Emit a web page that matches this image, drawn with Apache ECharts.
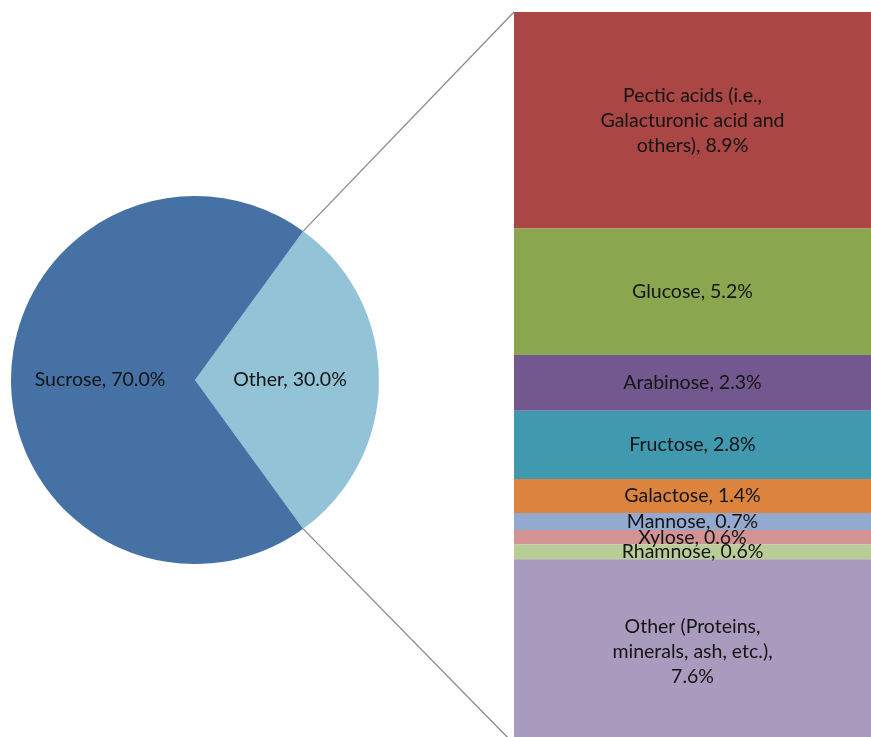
<!DOCTYPE html>
<html>
<head>
<meta charset="utf-8">
<style>
  html, body { margin: 0; padding: 0; background: #ffffff; width: 871px; height: 737px; overflow: hidden; }
  /* the stacked bar runs a few pixels past the bottom of the view */
  #chart { width: 871px; height: 745px; }
</style>
<script src="https://cdn.jsdelivr.net/npm/echarts@6/dist/echarts.min.js"></script>
</head>
<body>
<div id="chart"></div>
<script>
// Main split of the composition (pie)
const pieNames = ['Other', 'Sucrose'];
const pieValues = [30.0, 70.0];
const pieColors = ['#93C3D6', '#4571A5'];

// Breakdown of the "Other" share (stacked bar, top to bottom)
const barNames = [
  'Pectic acids (i.e.,\nGalacturonic acid and\nothers)',
  'Glucose',
  'Arabinose',
  'Fructose',
  'Galactose',
  'Mannose',
  'Xylose',
  'Rhamnose',
  'Other (Proteins,\nminerals, ash, etc.),\n'
];
const barValues = [8.9, 5.2, 2.3, 2.8, 1.4, 0.7, 0.6, 0.6, 7.6];
const barColors = ['#AA4644', '#8AA64F', '#72588F', '#4199B0', '#DC843D',
                   '#93A9D0', '#D19393', '#B9CE97', '#A99BBE'];

const FONT = 'Lato, "Open Sans", sans-serif';
const TEXT = '#141414';
const FONT_SIZE = 19.5;

const PIE_CX = 195, PIE_CY = 380, PIE_R = 184;
const BAR_LEFT = 514;

const chart = echarts.init(document.getElementById('chart'), null, { renderer: 'canvas' });

const pieTotal = pieValues.reduce((a, b) => a + b, 0);
const otherShare = pieValues[0] / pieTotal;
const halfAngle = otherShare * 360 / 2;
const barTotal = barValues.reduce((a, b) => a + b, 0);

const barSeries = barNames.map((name, i) => ({
  type: 'bar',
  name: name,
  stack: 'other',
  barWidth: '100%',
  data: [barValues[i]],
  itemStyle: { color: barColors[i] },
  label: {
    show: true,
    position: 'inside',
    formatter: () => name + (name.endsWith('\n') ? '' : ', ') + barValues[i].toFixed(1) + '%',
    color: TEXT,
    fontFamily: FONT,
    fontSize: FONT_SIZE,
    lineHeight: 25,
    align: 'center'
  },
  emphasis: { disabled: true },
  silent: true
}));

chart.setOption({
  animation: false,
  backgroundColor: '#ffffff',
  grid: { left: BAR_LEFT, right: 0, top: 12, bottom: 1, containLabel: false },
  xAxis: {
    type: 'category',
    data: ['Other'],
    show: false,
    boundaryGap: true
  },
  yAxis: {
    type: 'value',
    min: 0,
    max: barTotal,
    inverse: true,
    show: false
  },
  series: [
    {
      type: 'pie',
      center: [PIE_CX, PIE_CY],
      radius: PIE_R,
      startAngle: halfAngle,
      clockwise: true,
      silent: true,
      data: pieNames.map((n, i) => ({
        name: n,
        value: pieValues[i],
        itemStyle: { color: pieColors[i] }
      })),
      label: {
        show: true,
        position: 'inside',
        formatter: p => p.name + ', ' + p.value.toFixed(1) + '%',
        color: TEXT,
        fontFamily: FONT,
        fontSize: FONT_SIZE
      },
      labelLine: { show: false },
      itemStyle: { borderWidth: 0 },
      emphasis: { disabled: true }
    },
    ...barSeries
  ]
});

// Connector lines from the edge of the "Other" slice to the bar's corners
const rad = halfAngle * Math.PI / 180;
const edgeTop = [PIE_CX + PIE_R * Math.cos(rad), PIE_CY - PIE_R * Math.sin(rad)];
const edgeBot = [PIE_CX + PIE_R * Math.cos(rad), PIE_CY + PIE_R * Math.sin(rad)];
const barTopY = chart.convertToPixel({ yAxisIndex: 0 }, 0);
const barBotY = chart.convertToPixel({ yAxisIndex: 0 }, barTotal);

chart.setOption({
  graphic: [
    {
      type: 'line',
      shape: { x1: edgeTop[0], y1: edgeTop[1], x2: BAR_LEFT, y2: barTopY },
      style: { stroke: '#8a8a8a', lineWidth: 1.3 },
      z: 10
    },
    {
      type: 'line',
      shape: { x1: edgeBot[0], y1: edgeBot[1], x2: BAR_LEFT, y2: barBotY },
      style: { stroke: '#8a8a8a', lineWidth: 1.3 },
      z: 10
    }
  ]
});
</script>
</body>
</html>
